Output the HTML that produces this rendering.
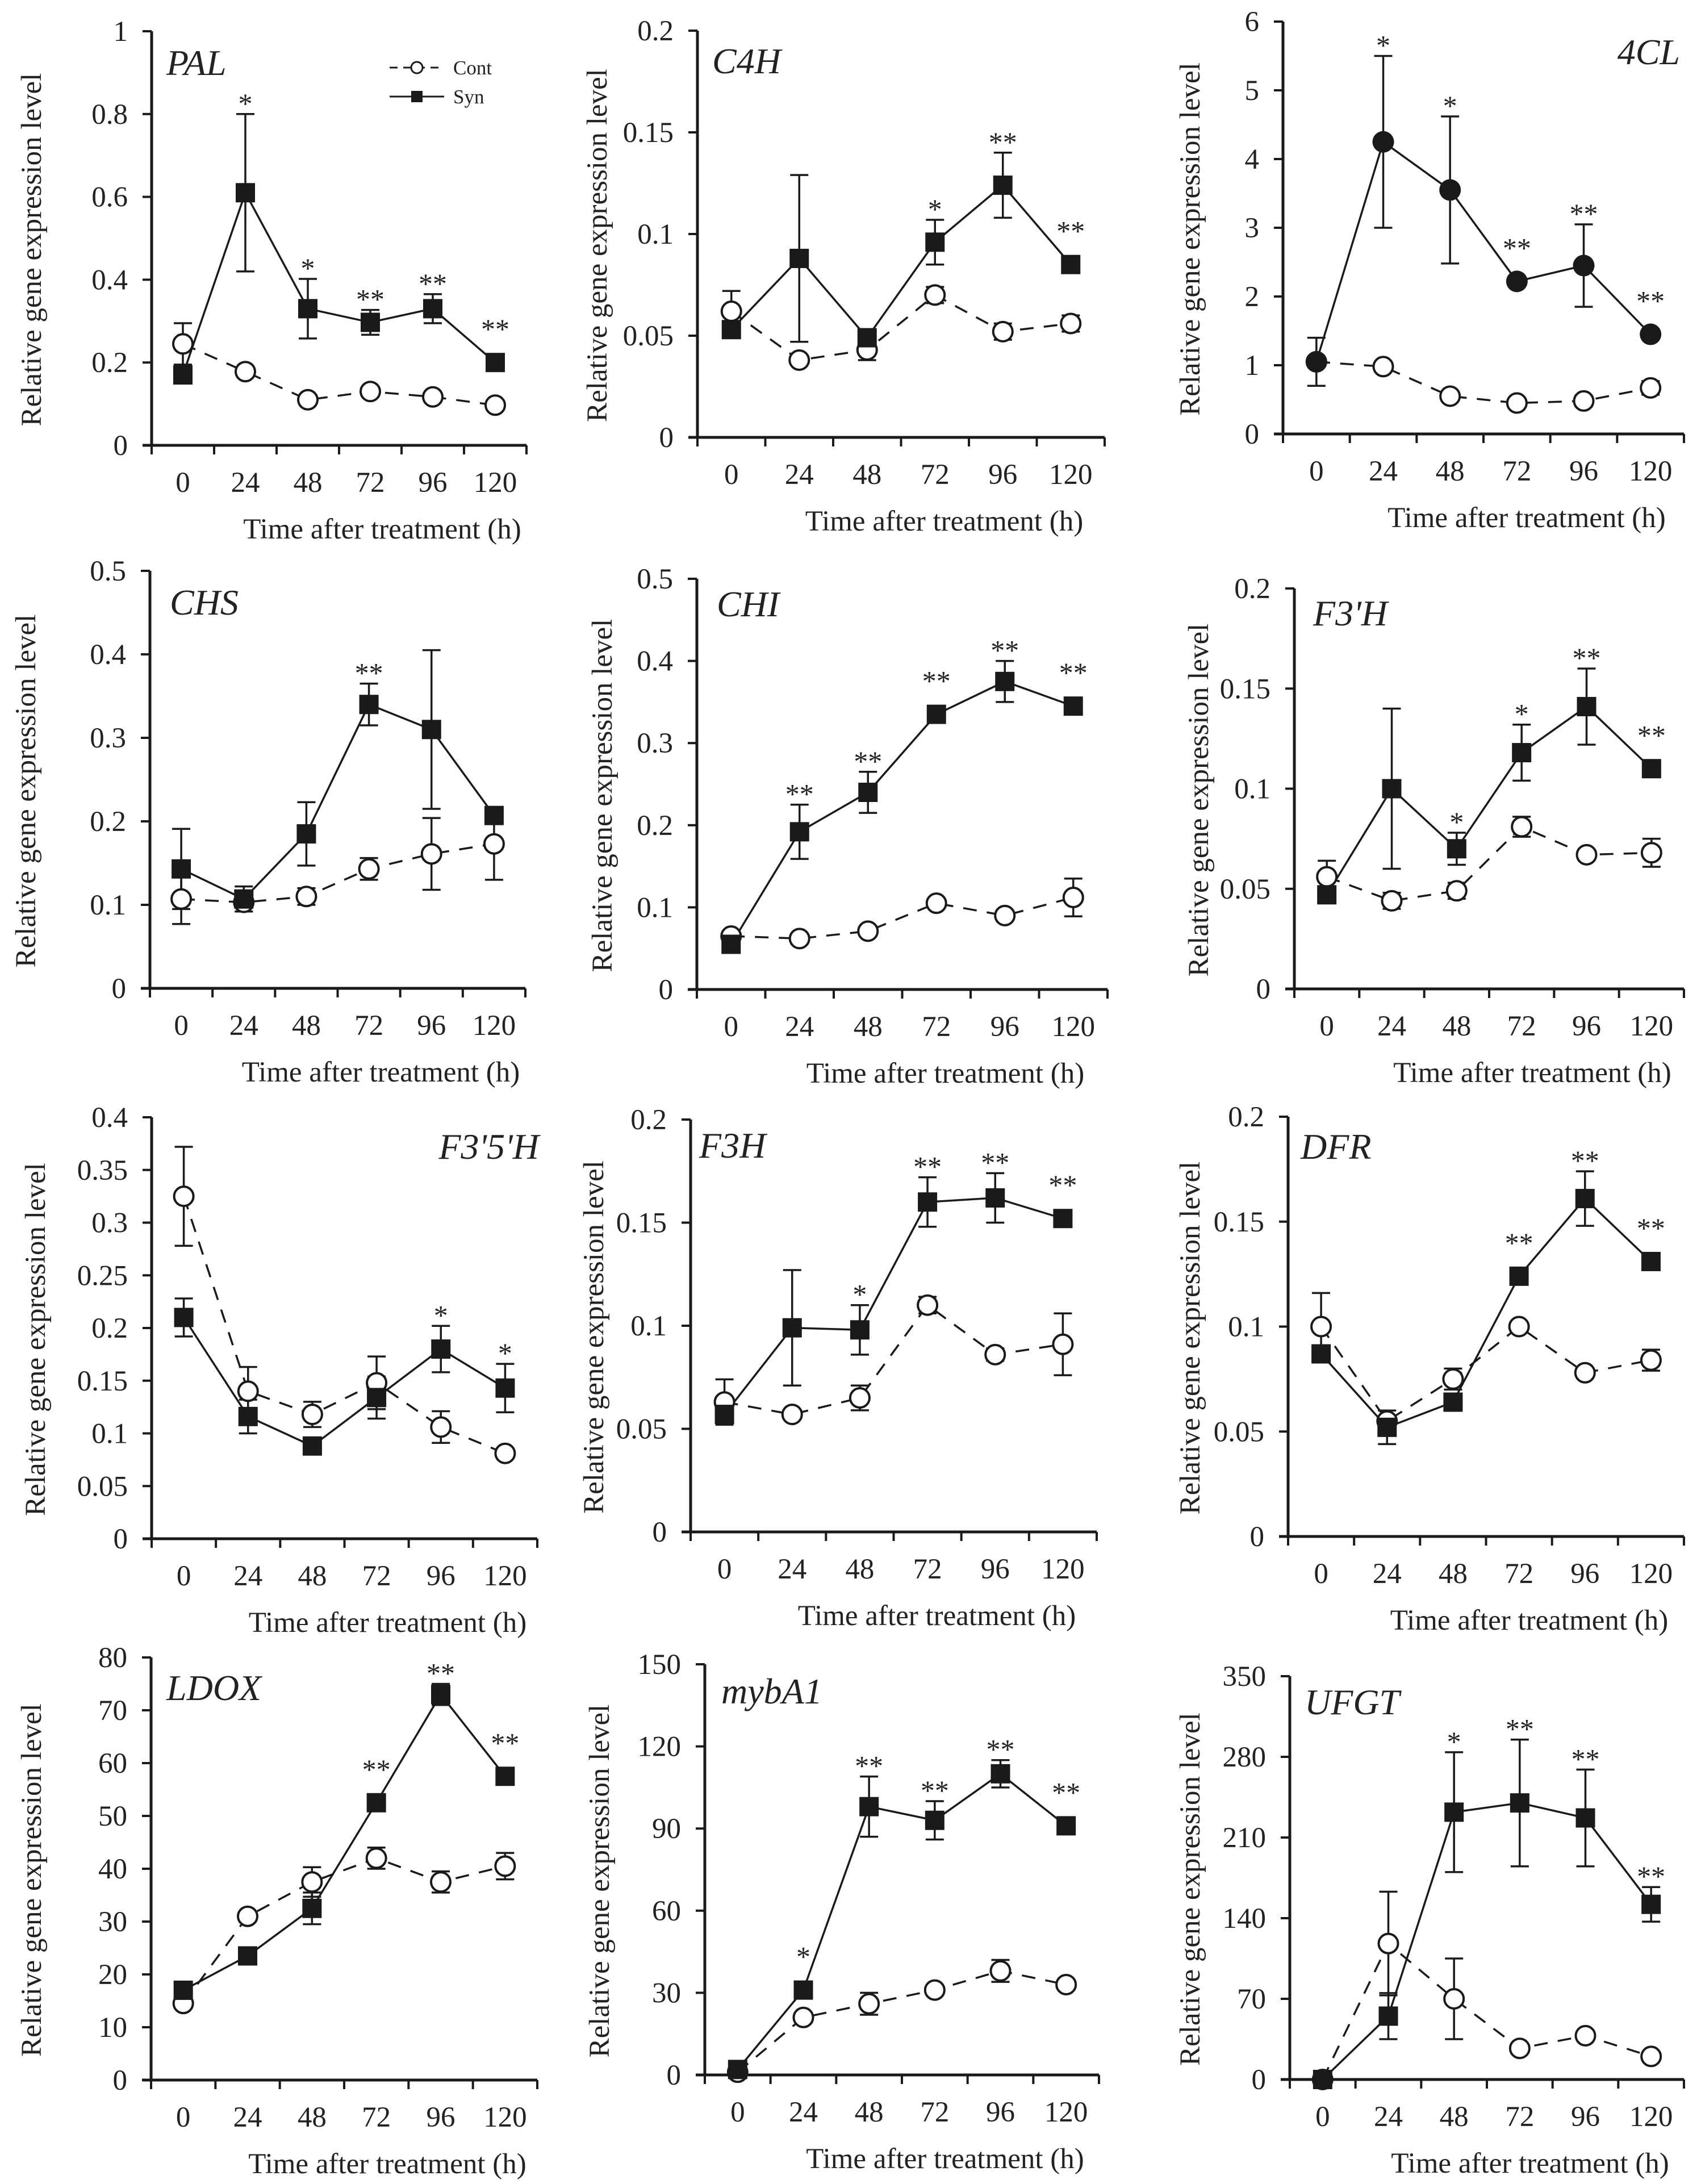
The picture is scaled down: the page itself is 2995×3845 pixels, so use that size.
<!DOCTYPE html>
<html><head><meta charset="utf-8">
<style>
html,body{margin:0;padding:0;background:#fff;}
svg{display:block;}
text{font-family:"Liberation Serif",serif;fill:#222;}
</style></head>
<body>
<svg id="fig" xmlns="http://www.w3.org/2000/svg" width="2995" height="3845" viewBox="0 0 2995 3845" font-family="Liberation Serif, serif">
</svg>
<script>
// ---- shared categories ----
const categories = [0, 24, 48, 72, 96, 120];

// ---- PAL ----
const palCont = [0.245, 0.178, 0.11, 0.13, 0.117, 0.097];
const palContErr = [0.05, 0, 0, 0, 0, 0];
const palSyn = [0.17, 0.61, 0.33, 0.297, 0.33, 0.2];
const palSynErr = [0, 0.19, 0.072, 0.03, 0.035, 0];
const palStars = ["", "*", "*", "**", "**", "**"];
const palTicks = ["0", "0.2", "0.4", "0.6", "0.8", "1"];
// ---- C4H ----
const c4hCont = [0.062, 0.038, 0.043, 0.07, 0.052, 0.056];
const c4hContErr = [0.01, 0, 0.005, 0.004, 0.004, 0.004];
const c4hSyn = [0.053, 0.088, 0.049, 0.096, 0.124, 0.085];
const c4hSynErr = [0, 0.041, 0, 0.011, 0.016, 0];
const c4hStars = ["", "", "", "*", "**", "**"];
const c4hTicks = ["0", "0.05", "0.1", "0.15", "0.2"];
// ---- 4CL ----
const cl4Cont = [1.05, 0.98, 0.55, 0.45, 0.48, 0.67];
const cl4ContErr = [0, 0, 0, 0, 0.08, 0.1];
const cl4Syn = [1.05, 4.25, 3.55, 2.22, 2.45, 1.45];
const cl4SynErr = [0.35, 1.25, 1.07, 0, 0.6, 0];
const cl4Stars = ["", "*", "*", "**", "**", "**"];
const cl4Ticks = ["0", "1", "2", "3", "4", "5", "6"];
// ---- CHS ----
const chsCont = [0.107, 0.103, 0.11, 0.143, 0.161, 0.173];
const chsContErr = [0.03, 0, 0.01, 0.013, 0.043, 0.043];
const chsSyn = [0.143, 0.107, 0.185, 0.34, 0.31, 0.207];
const chsSynErr = [0.048, 0.015, 0.038, 0.025, 0.095, 0];
const chsStars = ["", "", "", "**", "", ""];
const chsTicks = ["0", "0.1", "0.2", "0.3", "0.4", "0.5"];
// ---- CHI ----
const chiCont = [0.065, 0.062, 0.071, 0.105, 0.09, 0.112];
const chiContErr = [0.005, 0, 0, 0, 0, 0.023];
const chiSyn = [0.055, 0.192, 0.24, 0.335, 0.375, 0.345];
const chiSynErr = [0, 0.033, 0.025, 0, 0.025, 0];
const chiStars = ["", "**", "**", "**", "**", "**"];
const chiTicks = ["0", "0.1", "0.2", "0.3", "0.4", "0.5"];
// ---- F3'H ----
const f3phCont = [0.056, 0.044, 0.049, 0.081, 0.067, 0.068];
const f3phContErr = [0.008, 0.004, 0.004, 0.005, 0, 0.007];
const f3phSyn = [0.047, 0.1, 0.07, 0.118, 0.141, 0.11];
const f3phSynErr = [0, 0.04, 0.008, 0.014, 0.019, 0];
const f3phStars = ["", "", "*", "*", "**", "**"];
const f3phTicks = ["0", "0.05", "0.1", "0.15", "0.2"];
// ---- F3'5'H ----
const f35hCont = [0.325, 0.14, 0.118, 0.148, 0.106, 0.081];
const f35hContErr = [0.047, 0.023, 0.012, 0.025, 0.015, 0];
const f35hSyn = [0.21, 0.116, 0.088, 0.134, 0.18, 0.143];
const f35hSynErr = [0.018, 0.016, 0, 0.02, 0.022, 0.023];
const f35hStars = ["", "", "", "", "*", "*"];
const f35hTicks = ["0", "0.05", "0.1", "0.15", "0.2", "0.25", "0.3", "0.35", "0.4"];
// ---- F3H ----
const f3hCont = [0.063, 0.057, 0.065, 0.11, 0.086, 0.091];
const f3hContErr = [0.011, 0, 0.006, 0.004, 0.003, 0.015];
const f3hSyn = [0.057, 0.099, 0.098, 0.16, 0.162, 0.152];
const f3hSynErr = [0, 0.028, 0.012, 0.012, 0.012, 0];
const f3hStars = ["", "", "*", "**", "**", "**"];
const f3hTicks = ["0", "0.05", "0.1", "0.15", "0.2"];
// ---- DFR ----
const dfrCont = [0.1, 0.055, 0.075, 0.1, 0.078, 0.084];
const dfrContErr = [0.016, 0, 0.005, 0, 0, 0.005];
const dfrSyn = [0.087, 0.052, 0.064, 0.124, 0.161, 0.131];
const dfrSynErr = [0, 0.008, 0, 0, 0.013, 0];
const dfrStars = ["", "", "", "**", "**", "**"];
const dfrTicks = ["0", "0.05", "0.1", "0.15", "0.2"];
// ---- LDOX ----
const ldoxCont = [14.5, 31, 37.5, 42, 37.5, 40.5];
const ldoxContErr = [0, 0, 2.8, 2, 2, 2.5];
const ldoxSyn = [17, 23.5, 32.5, 52.5, 73, 57.5];
const ldoxSynErr = [0, 0, 3, 0, 2, 0];
const ldoxStars = ["", "", "", "**", "**", "**"];
const ldoxTicks = ["0", "10", "20", "30", "40", "50", "60", "70", "80"];
// ---- mybA1 ----
const mybCont = [1, 21, 26, 31, 38, 33];
const mybContErr = [0, 0, 4, 0, 4, 0];
const mybSyn = [2, 31, 98, 93, 110, 91];
const mybSynErr = [0, 0, 11, 7, 5, 0];
const mybStars = ["", "*", "**", "**", "**", "**"];
const mybTicks = ["0", "30", "60", "90", "120", "150"];
// ---- UFGT ----
const ufgtCont = [0, 118, 70, 27, 38, 20];
const ufgtContErr = [0, 45, 35, 0, 0, 0];
const ufgtSyn = [0, 55, 232, 240, 227, 152];
const ufgtSynErr = [0, 20, 52, 55, 42, 15];
const ufgtStars = ["", "", "*", "**", "**", "**"];
const ufgtTicks = ["0", "70", "140", "210", "280", "350"];

// layout (positions only)
const panels = [
 {id:'pal', name:'PAL', cont:palCont, ce:palContErr, syn:palSyn, se:palSynErr, stars:palStars, ticks:palTicks, ax:267, rx:927, y0:784, yt:55, ylx:55, gx:293, gy:132, anchor:'start', legend:true, circ:false},
 {id:'c4h', name:'C4H', cont:c4hCont, ce:c4hContErr, syn:c4hSyn, se:c4hSynErr, stars:c4hStars, ticks:c4hTicks, ax:1228, rx:1945, y0:770, yt:54, ylx:1051, gx:1254, gy:129, anchor:'start'},
 {id:'4cl', name:'4CL', cont:cl4Cont, ce:cl4ContErr, syn:cl4Syn, se:cl4SynErr, stars:cl4Stars, ticks:cl4Ticks, ax:2259, rx:2965, y0:764, yt:38, ylx:2095, gx:2958, gy:113, anchor:'end', circ:true},
 {id:'chs', name:'CHS', cont:chsCont, ce:chsContErr, syn:chsSyn, se:chsSynErr, stars:chsStars, ticks:chsTicks, ax:264, rx:925, y0:1740, yt:1005, ylx:45, gx:299, gy:1082, anchor:'start'},
 {id:'chi', name:'CHI', cont:chiCont, ce:chiContErr, syn:chiSyn, se:chiSynErr, stars:chiStars, ticks:chiTicks, ax:1227, rx:1950, y0:1742, yt:1019, ylx:1060, gx:1262, gy:1085, anchor:'start'},
 {id:'f3ph', name:"F3'H", cont:f3phCont, ce:f3phContErr, syn:f3phSyn, se:f3phSynErr, stars:f3phStars, ticks:f3phTicks, ax:2279, rx:2965, y0:1741, yt:1036, ylx:2110, gx:2312, gy:1101, anchor:'start'},
 {id:'f35h', name:"F3'5'H", cont:f35hCont, ce:f35hContErr, syn:f35hSyn, se:f35hSynErr, stars:f35hStars, ticks:f35hTicks, ax:267, rx:946, y0:2709, yt:1967, ylx:62, gx:949, gy:2040, anchor:'end'},
 {id:'f3h', name:'F3H', cont:f3hCont, ce:f3hContErr, syn:f3hSyn, se:f3hSynErr, stars:f3hStars, ticks:f3hTicks, ax:1216, rx:1931, y0:2697, yt:1971, ylx:1045, gx:1231, gy:2038, anchor:'start'},
 {id:'dfr', name:'DFR', cont:dfrCont, ce:dfrContErr, syn:dfrSyn, se:dfrSynErr, stars:dfrStars, ticks:dfrTicks, ax:2268, rx:2965, y0:2705, yt:1966, ylx:2095, gx:2290, gy:2040, anchor:'start'},
 {id:'ldox', name:'LDOX', cont:ldoxCont, ce:ldoxContErr, syn:ldoxSyn, se:ldoxSynErr, stars:ldoxStars, ticks:ldoxTicks, ax:266, rx:946, y0:3662, yt:2918, ylx:55, gx:293, gy:2993, anchor:'start'},
 {id:'myb', name:'mybA1', cont:mybCont, ce:mybContErr, syn:mybSyn, se:mybSynErr, stars:mybStars, ticks:mybTicks, ax:1241, rx:1935, y0:3653, yt:2930, ylx:1055, gx:1270, gy:2999, anchor:'start'},
 {id:'ufgt', name:'UFGT', cont:ufgtCont, ce:ufgtContErr, syn:ufgtSyn, se:ufgtSynErr, stars:ufgtStars, ticks:ufgtTicks, ax:2271, rx:2965, y0:3661, yt:2951, ylx:2095, gx:2297, gy:3018, anchor:'start'}
];

const NS = 'http://www.w3.org/2000/svg';
const svg = document.getElementById('fig');
function mk(tag, attrs, parent, txt){
  const e = document.createElementNS(NS, tag);
  for (const k in attrs) e.setAttribute(k, attrs[k]);
  if (txt !== undefined) e.textContent = txt;
  parent.appendChild(e);
  return e;
}
const INK = '#1a1a1a';
const FF = 'Liberation Serif, serif';

panels.forEach(p => {
  const g = mk('g', {'font-family':FF}, svg);
  
  
  const ymax = parseFloat(p.ticks[p.ticks.length - 1]);
  const yScale = v => p.y0 - (v / ymax) * (p.y0 - p.yt);
  const step = (p.rx - p.ax) / categories.length;
  const xScale = i => p.ax + step * (i + 0.5);

  const yAxis = mk('line', {x1:p.ax, y1:p.yt, x2:p.ax, y2:p.y0 + 2, stroke:INK, 'stroke-width':5}, g);
  
  
  const xAxis = mk('line', {x1:p.ax - 16, y1:p.y0, x2:p.rx, y2:p.y0, stroke:INK, 'stroke-width':5}, g);
  
  
  p.ticks.forEach(t => {
    const y = yScale(parseFloat(t));
    mk('line', {x1:p.ax - 16, y1:y, x2:p.ax, y2:y, stroke:INK, 'stroke-width':4}, g);
    const lab = mk('text', {x:p.ax - 42, y:y + 17, 'font-size':51, 'text-anchor':'end'}, g, t);
    
    
  });
  for (let i = 0; i <= categories.length; i++) {
    const x = p.ax + step * i;
    mk('line', {x1:x, y1:p.y0, x2:x, y2:p.y0 + 16, stroke:INK, 'stroke-width':4}, g);
  }
  categories.forEach((c, i) => {
    const lab = mk('text', {x:xScale(i), y:p.y0 + 82, 'font-size':51, 'text-anchor':'middle'}, g, String(c));
    
    
  });
  const xt = mk('text', {x:(p.ax + p.rx) / 2 + 76, y:p.y0 + 164, 'font-size':51, 'text-anchor':'middle'}, g, 'Time after treatment (h)');
  
  
  const ym = (p.y0 + p.yt) / 2 + 20;
  const yt = mk('text', {x:0, y:0, 'font-size':51, 'text-anchor':'middle', transform:'translate(' + (p.ylx + 17) + ',' + ym + ') rotate(-90)'}, g, 'Relative gene expression  level');
  
  
  const gn = mk('text', {x:p.gx, y:p.gy, 'font-size':64, 'font-style':'italic', 'text-anchor':p.anchor}, g, p.name);
  
  

  const contPts = p.cont.map((v, i) => xScale(i) + ',' + yScale(v)).join(' ');
  const synPts = p.syn.map((v, i) => xScale(i) + ',' + yScale(v)).join(' ');
  const cl = mk('polyline', {points:contPts, fill:'none', stroke:INK, 'stroke-width':3.5, 'stroke-dasharray':'24,18'}, g);
  
  
  const sl = mk('polyline', {points:synPts, fill:'none', stroke:INK, 'stroke-width':3.5}, g);
  
  

  function errBar(vals, errs, nm){
    vals.forEach((v, i) => {
      if (!errs[i]) return;
      const x = xScale(i), t = yScale(v + errs[i]), b = yScale(Math.max(0, v - errs[i]));
      const eg = mk('g', {stroke:INK, 'stroke-width':3.5}, g);
      
      
      mk('line', {x1:x, y1:t, x2:x, y2:b}, eg);
      mk('line', {x1:x - 16, y1:t, x2:x + 16, y2:t}, eg);
      mk('line', {x1:x - 16, y1:b, x2:x + 16, y2:b}, eg);
    });
  }
  errBar(p.cont, p.ce, 'cont-error-bar');
  errBar(p.syn, p.se, 'syn-error-bar');

  p.cont.forEach((v, i) => {
    const c = mk('circle', {cx:xScale(i), cy:yScale(v), r:17, fill:'#fff', stroke:INK, 'stroke-width':4}, g);
    
    
  });
  p.syn.forEach((v, i) => {
    let m;
    if (p.circ) m = mk('circle', {cx:xScale(i), cy:yScale(v), r:19, fill:INK}, g);
    else m = mk('rect', {x:xScale(i) - 17, y:yScale(v) - 17, width:34, height:34, fill:INK}, g);
    
    
  });

  p.stars.forEach((s, i) => {
    if (!s) return;
    const top = Math.min(yScale(p.syn[i] + p.se[i]) - (p.se[i] ? 0 : 40), yScale(p.cont[i] + p.ce[i]) - (p.ce[i] ? 0 : 40));
    const st = mk('text', {x:xScale(i), y:top - 2, 'font-size':50, 'text-anchor':'middle', fill:'#333'}, g, s);
    
    
  });

  if (p.legend) {
    const lg = mk('g', {}, g);
    
    
    const e1 = mk('g', {}, lg);
    
    
    mk('line', {x1:686, y1:119, x2:782, y2:119, stroke:INK, 'stroke-width':3, 'stroke-dasharray':'14,10'}, e1);
    mk('circle', {cx:734, cy:119, r:10, fill:'#fff', stroke:INK, 'stroke-width':3}, e1);
    mk('text', {x:798, y:131, 'font-size':35}, e1, 'Cont');
    const e2 = mk('g', {}, lg);
    
    
    mk('line', {x1:686, y1:170, x2:782, y2:170, stroke:INK, 'stroke-width':3}, e2);
    mk('rect', {x:724, y:160, width:20, height:20, fill:INK}, e2);
    mk('text', {x:798, y:182, 'font-size':35}, e2, 'Syn');
  }
});
</script>
</body></html>
